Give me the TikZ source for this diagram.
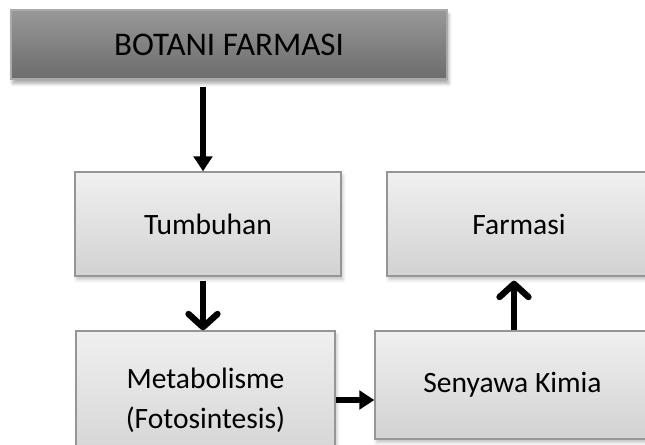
\documentclass[tikz,border=0pt]{standalone}
\usepackage{fontspec}
\setmainfont{Carlito}
\usepackage{tikz}
\usetikzlibrary{positioning, arrows.meta, calc, shadows.blur}
\definecolor{bfHeadTop}{RGB}{152,152,152}
\definecolor{bfHeadBot}{RGB}{108,108,108}
\definecolor{bfHeadLine}{RGB}{170,170,170}
\definecolor{bfBoxTop}{RGB}{240,240,240}
\definecolor{bfBoxBot}{RGB}{210,210,210}
\definecolor{bfBoxLine}{RGB}{150,150,150}

\begin{document}
\begin{tikzpicture}[x=0.02cm, y=-0.02cm,
	headbox/.style={draw=bfHeadLine, line width=0.8pt, top color=bfHeadTop, bottom color=bfHeadBot, minimum width=8.72cm, minimum height=1.38cm, font=\fontsize{18.8}{23}\selectfont, blur shadow={shadow xshift=1pt, shadow yshift=-2.5pt, shadow blur steps=6, shadow opacity=35}},
	plainbox/.style={draw=bfBoxLine, line width=0.8pt, top color=bfBoxTop, bottom color=bfBoxBot, align=center, blur shadow={shadow xshift=1pt, shadow yshift=-2pt, shadow blur steps=5, shadow opacity=25}},
	fatarrow/.style={line width=3.3pt, -{Triangle[length=8.5pt, width=10.5pt]}},
	barbarrow/.style={line width=3pt, -{Straight Barb[length=7.5pt, width=16.5pt, line width=3.6pt, line cap=round, line join=round]}},
	font=\fontsize{16.8}{23}\selectfont]
	\useasboundingbox (0,0) rectangle (645,444);
	\clip (0,0) rectangle (645,444);
	\node[headbox] (botani) at (229,44.5) {BOTANI FARMASI};
	\node[plainbox, minimum width=5.32cm, minimum height=2.08cm] (tumbuhan) at (208,224) {Tumbuhan};
	\node[plainbox, minimum width=5.28cm, minimum height=2.08cm] (farmasi) at (519,224) {Farmasi};
	\node[plainbox, minimum width=5.18cm, minimum height=2.76cm] (metabolisme) at (205.5,400) {Metabolisme\\(Fotosintesis)};
	\node[plainbox, minimum width=5.5cm, minimum height=2.16cm] (senyawa) at (512.5,385) {Senyawa Kimia};
	% alur panah
	\draw[fatarrow, shorten <=0.14cm] ([xshift=-0.1cm]tumbuhan.north |- botani.south) -- ([xshift=-0.1cm]tumbuhan.north);
	\draw[barbarrow, shorten <=0.08cm] ([xshift=-0.1cm]tumbuhan.south) -- ([xshift=-0.1cm]tumbuhan.south |- metabolisme.north);
	\draw[fatarrow] (metabolisme.east) -- (metabolisme.east -| senyawa.west);
	\draw[barbarrow, shorten >=0.08cm] ([xshift=0.03cm]senyawa.north) -- ([xshift=0.03cm]senyawa.north |- farmasi.south);
\end{tikzpicture}
\end{document}
